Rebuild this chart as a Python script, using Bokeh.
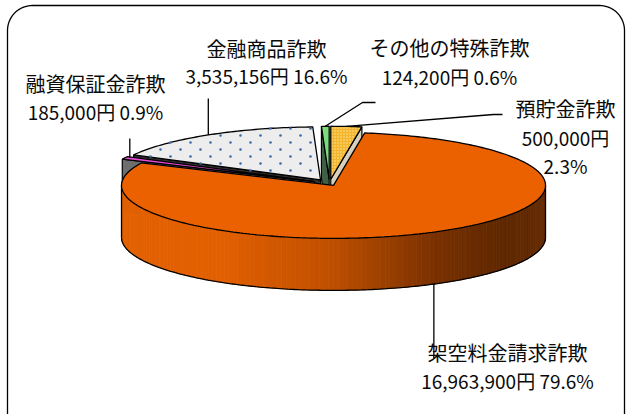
import numpy as np
from bokeh.plotting import figure
from bokeh.models import Range1d
from bokeh.core.properties import value
from bokeh.embed import file_html
from bokeh.resources import INLINE

# ---------------- data ----------------
categories = ["預貯金詐欺", "架空料金請求詐欺", "融資保証金詐欺", "金融商品詐欺", "その他の特殊詐欺"]
amounts = [500000, 16963900, 185000, 3535156, 124200]

# ---------------- styles ----------------
top_colors = ["#F3B52E", "#EB6100", "#E84AD8", "#EDEDED", "#7CDC7C"]
cut_colors = ["#D6D0BC", "#B04800", "#6E6E6E", "#303030", "#3E5E46"]
explode = [0.08, 0.04, 0.08, 0.08, 0.08]
FONT = value("Noto Sans CJK JP")

W, H = 627, 414
p = figure(width=W, height=H, x_range=Range1d(0, W), y_range=Range1d(H, 0),
           output_backend="svg", toolbar_location=None, min_border=0,
           x_axis_location=None, y_axis_location=None)
p.grid.visible = False
p.outline_line_color = None
p.background_fill_color = "white"
p.border_fill_color = "white"

# pie geometry (screen-like coordinates)
cx, cy = 329.0, 183.0
rx, ry = 212.0, 53.0
depth = 52.0

total = float(sum(amounts))
fr = [a / total for a in amounts]
starts = np.concatenate([[0.0], np.cumsum(fr)[:-1]]) * 360.0
ends = np.cumsum(fr) * 360.0


def arc(vx, vy, a0, a1, dy=0.0, n=None):
    if n is None:
        n = max(2, int(abs(a1 - a0) / 1.0) + 2)
    th = np.radians(np.linspace(a0, a1, n))
    return list(vx + rx * np.sin(th)), list(vy - ry * np.cos(th) + dy)


def vertex(i):
    m = np.radians((starts[i] + ends[i]) / 2)
    e = explode[i]
    return cx + e * rx * np.sin(m), cy - e * ry * np.cos(m)


def side_color(x):
    stops = [(0.0, (226, 98, 0)), (0.25, (226, 96, 0)), (0.5, (192, 80, 0)),
             (0.75, (122, 49, 0)), (0.9, (96, 40, 0)), (1.0, (100, 44, 4))]
    t = min(1, max(0, (x - (cx - rx)) / (2 * rx)))
    for (t0, c0), (t1, c1) in zip(stops[:-1], stops[1:]):
        if t <= t1:
            u = (t - t0) / (t1 - t0)
            c = [int(c0[k] + (c1[k] - c0[k]) * u) for k in range(3)]
            return "#%02x%02x%02x" % tuple(c)
    return "#%02x%02x%02x" % stops[-1][1]


def inside(px, py, xs, ys):
    c = False
    n = len(xs)
    j = n - 1
    for k in range(n):
        if ((ys[k] > py) != (ys[j] > py)) and \
           (px < (xs[j] - xs[k]) * (py - ys[k]) / (ys[j] - ys[k] + 1e-12) + xs[k]):
            c = not c
        j = k
    return c


mids = [(s + e) / 2 for s, e in zip(starts, ends)]
order = sorted(range(len(amounts)), key=lambda i: -np.cos(np.radians(mids[i])))

for i in order:
    a0, a1 = starts[i], ends[i]
    vx, vy = vertex(i)
    # cut faces
    for ang, vis in ((a0, np.sin(np.radians(a0)) < -1e-6), (a1, np.sin(np.radians(a1)) > 1e-6)):
        if vis:
            px = vx + rx * np.sin(np.radians(ang))
            py = vy - ry * np.cos(np.radians(ang))
            p.patch([vx, px, px, vx], [vy, py, py + depth, vy + depth],
                    fill_color=cut_colors[i], line_color="black", line_width=1.2)
    # outer curved side (front half only)
    s0, s1 = max(a0, 90.0), min(a1, 270.0)
    if s1 > s0:
        n = 140
        th = np.linspace(s0, s1, n + 1)
        xs, ys, cs = [], [], []
        for k in range(n):
            tx, ty = arc(vx, vy, th[k], th[k + 1], n=2)
            bx, by = arc(vx, vy, th[k + 1], th[k], dy=depth, n=2)
            xs.append(tx + bx)
            ys.append(ty + by)
            cs.append(side_color(np.mean(tx)))
        p.patches(xs, ys, fill_color=cs, line_color=cs, line_width=0.8)
        bx, by = arc(vx, vy, s0, s1, dy=depth)
        lx, ly = arc(vx, vy, s0, s0, n=2)
        rx_, ry_ = arc(vx, vy, s1, s1, n=2)
        p.line(bx, by, line_color="black", line_width=1.3)
        p.line([lx[0], lx[0]], [ly[0], ly[0] + depth], line_color="black", line_width=1.3)
        p.line([rx_[0], rx_[0]], [ry_[0], ry_[0] + depth], line_color="black", line_width=1.3)
    # top face
    tx, ty = arc(vx, vy, a0, a1)
    kw = dict(fill_color=top_colors[i], line_color="black", line_width=1.3)
    if i == 0:
        kw.update(hatch_pattern=".", hatch_color="#FCE79A", hatch_scale=3, hatch_weight=0.5)
    p.patch([vx] + tx, [vy] + ty, **kw)
    if i == 3:
        # sparse dotted texture
        polx, poly = [vx] + tx, [vy] + ty
        dx_, dy_ = [], []
        for r, yy in enumerate(np.arange(121, 190, 7.0)):
            off = 0 if r % 2 == 0 else 10
            for xx in np.arange(100 + off, 340, 20.0):
                if inside(xx, yy, polx, poly):
                    # keep off the outline
                    dx_.append(xx); dy_.append(yy)
        p.scatter(dx_, dy_, size=2.6, marker="circle", fill_color="#3A6AA8", line_color=None)

# ---------------- labels ----------------
def fmt(i):
    pct = amounts[i] / total * 100
    return f"{amounts[i]:,}円", f"{pct:.1f}%"

label_layout = {
    0: (565, [108, 137, 165]),
    1: (507, [352, 380]),
    2: (95, [83, 111]),
    3: (266, [48, 75]),
    4: (449, [47, 76]),
}
for i, (lx, lys) in label_layout.items():
    amt, pct = fmt(i)
    lines = [categories[i], amt, pct] if len(lys) == 3 else [categories[i], amt + " " + pct]
    for j, (t, yy) in enumerate(zip(lines, lys)):
        p.text([lx], [yy], [t], text_font=FONT, text_font_size="20px" if j == 0 else "19px",
               text_align="center", text_baseline="middle", text_color="#0a0a0a")

# ---------------- leader lines ----------------
def anchor(i, bottom=False):
    vx, vy = vertex(i)
    m = np.radians(mids[i])
    return vx + rx * np.sin(m), vy - ry * np.cos(m) + (depth if bottom else 0)

ax, ay = anchor(2)
p.line([ax + 5, ax + 5], [ay, 138], line_color="black", line_width=1.3)
ax, ay = anchor(3)
p.line([ax, ax], [ay, 98], line_color="black", line_width=1.3)
ax, ay = anchor(4)
p.line([ax, 362, 375], [ay, 102, 102], line_color="black", line_width=1.3)
ax, ay = anchor(0)
p.line([ax, 493, 502], [ay, 114, 114], line_color="black", line_width=1.3)
ax, ay = anchor(1, bottom=True)
p.line([ax, ax], [ay, 358], line_color="black", line_width=1.3)

# ---------------- rounded frame ----------------
L, T, R, B, rad = 7.0, 5.0, 624.0, 440.0, 25.0
fx, fy = [], []
for (ccx, ccy, a0, a1) in [(L + rad, T + rad, 180, 270), (R - rad, T + rad, 270, 360),
                           (R - rad, B - rad, 0, 90), (L + rad, B - rad, 90, 180)]:
    th = np.radians(np.linspace(a0, a1, 20))
    fx += list(ccx + rad * np.cos(th))
    fy += list(ccy + rad * np.sin(th))
fx.append(fx[0]); fy.append(fy[0])
p.line(fx, fy, line_color="black", line_width=1.3)

open("out.html", "w").write(file_html(p, INLINE))
